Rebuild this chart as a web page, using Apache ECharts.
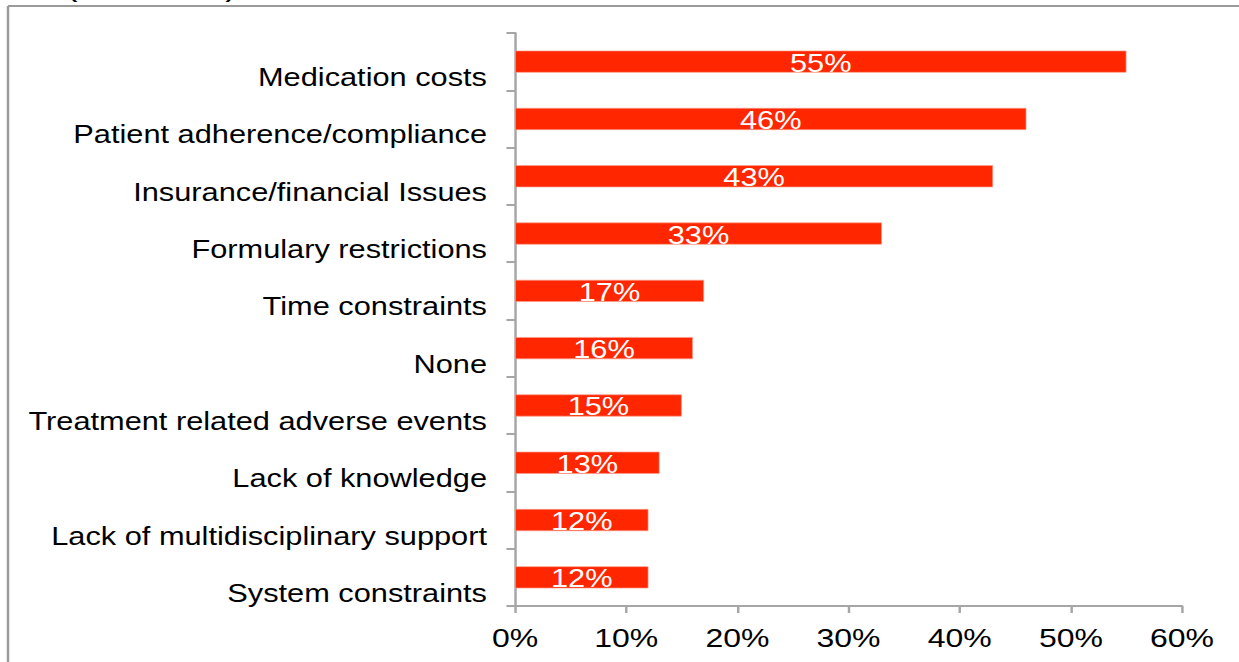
<!DOCTYPE html>
<html>
<head>
<meta charset="utf-8">
<script src="https://cdn.jsdelivr.net/npm/echarts@6/dist/echarts.min.js"></script>
<style>
  html, body { margin: 0; padding: 0; background: #fff; overflow: hidden; }
  /* The chart is drawn on a narrower canvas and widened, giving the broad lettering of the slide */
  #chart { width: 1007px; height: 662px; transform: scaleX(1.2304); transform-origin: 0 0; }
</style>
</head>
<body>
<div id="chart"></div>
<script>
// Reported barriers, bottom to top as the category axis draws them
const categories = [
  'System constraints',
  'Lack of multidisciplinary support',
  'Lack of knowledge',
  'Treatment related adverse events',
  'None',
  'Time constraints',
  'Formulary restrictions',
  'Insurance/financial Issues',
  'Patient adherence/compliance',
  'Medication costs'
];
const percentValues = [12, 12, 13, 15, 16, 17, 33, 43, 46, 55];
const axisTicks = [0, 10, 20, 30, 40, 50, 60];

const chart = echarts.init(document.getElementById('chart'), null, { renderer: 'svg' });
const font = 'Liberation Sans, Arial, sans-serif';

chart.setOption({
  animation: false,
  backgroundColor: '#ffffff',
  grid: { left: 418.6, right: 46.3, top: 33, bottom: 56, containLabel: false },
  xAxis: {
    type: 'value',
    min: axisTicks[0],
    max: axisTicks[axisTicks.length - 1],
    interval: 10,
    axisLine: { show: true, lineStyle: { color: '#a6a6a6', width: 2 } },
    axisTick: { show: true, length: 7, lineStyle: { color: '#a6a6a6', width: 2 } },
    splitLine: { show: false },
    axisLabel: {
      formatter: v => v + '%',
      color: '#000', fontFamily: font, fontSize: 26, margin: 19
    }
  },
  yAxis: {
    type: 'category',
    data: categories,
    axisLine: { show: true, lineStyle: { color: '#a6a6a6', width: 2 } },
    axisTick: { show: true, length: 7, lineStyle: { color: '#a6a6a6', width: 2 } },
    axisLabel: {
      color: '#000', fontFamily: font, fontSize: 25, margin: 22.8,
      verticalAlign: 'top', lineHeight: 32
    }
  },
  series: [{
    type: 'bar',
    data: percentValues,
    barWidth: 22,
    itemStyle: { color: '#ff2600', borderColor: '#ff9c8a', borderWidth: 0.6 },
    label: {
      show: true, position: 'inside', offset: [0, 1.5],
      formatter: p => p.value + '%',
      color: '#fff', fontFamily: font, fontSize: 25
    }
  }],
  graphic: [
    { type: 'line', shape: { x1: 6.5, y1: 6, x2: 1007, y2: 6 }, style: { stroke: '#9a9a9a', lineWidth: 2 } },
    { type: 'line', shape: { x1: 6.5, y1: 6, x2: 6.5, y2: 662 }, style: { stroke: '#9a9a9a', lineWidth: 2 } },
    { type: 'text', left: 53, top: -29, style: { text: '(', fontSize: 30, fontFamily: font, fill: '#000' } },
    { type: 'text', left: 183, top: -29, style: { text: ')', fontSize: 30, fontFamily: font, fill: '#000' } }
  ]
});
</script>
</body>
</html>
